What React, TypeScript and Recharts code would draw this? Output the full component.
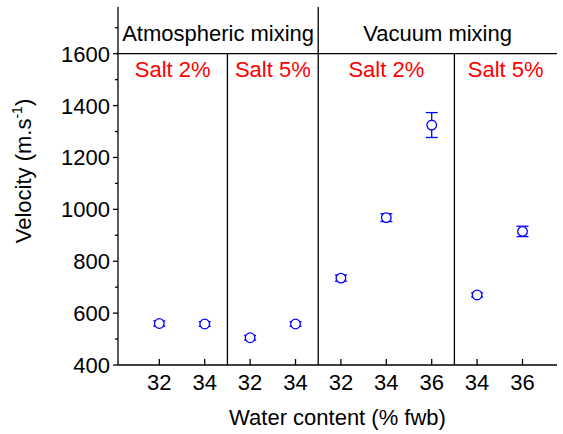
import {ComposedChart, ErrorBar, ReferenceArea, ReferenceLine, Scatter, XAxis, YAxis} from "recharts";

const positions = [0, 1, 2, 3, 4, 5, 6, 7, 8];
const waterLabels = ["32", "34", "32", "34", "32", "34", "36", "34", "36"];
const velocity = [560, 558, 505, 558, 735, 968, 1325, 670, 915];
const velocityErr = [10, 9, 9, 9, 12, 15, 48, 8, 20];

const mixingGroups = [
  {name: "Atmospheric mixing", from: -0.91, to: 3.5},
  {name: "Vacuum mixing", from: 3.5, to: 8.76},
];
const saltGroups = [
  {name: "Salt 2%", from: -0.91, to: 1.5},
  {name: "Salt 5%", from: 1.5, to: 3.5},
  {name: "Salt 2%", from: 3.5, to: 6.5},
  {name: "Salt 5%", from: 6.5, to: 8.76},
];
const yTicks = [400, 500, 600, 700, 800, 900, 1000, 1100, 1200, 1300, 1400, 1500, 1600, 1700];

const FONT = "'Liberation Sans', Arial, sans-serif";
const BLUE = "#0000ff";

const data = positions.map((x, i) => ({x, y: velocity[i], err: velocityErr[i]}));

function BottomTick(props: any) {
  const {x, y, payload} = props;
  return (
    <g>
      <line x1={x} x2={x} y1={y} y2={y - 6} stroke="#000" strokeWidth={1.3}/>
      <text x={x} y={y + 25} textAnchor="middle" fontSize={22} fontFamily={FONT} fill="#000">
        {waterLabels[payload.value]}
      </text>
    </g>
  );
}

function TopTick(props: any) {
  const {x, y} = props;
  return <line x1={x} x2={x} y1={y} y2={y + 6} stroke="#000" strokeWidth={1.3}/>;
}

function LeftTick(props: any) {
  const {x, y, payload} = props;
  const major = payload.value % 200 === 0 && payload.value <= 1600;
  return (
    <g>
      <line x1={x} x2={x - (major ? 5 : 3)} y1={y} y2={y} stroke="#000" strokeWidth={1.3}/>
      {major && (
        <text x={x - 8} y={y + 8} textAnchor="end" fontSize={22} fontFamily={FONT} fill="#000">
          {payload.value}
        </text>
      )}
    </g>
  );
}

function RightTick(props: any) {
  const {x, y, payload} = props;
  const major = payload.value % 200 === 0;
  return <line x1={x} x2={x - (major ? 5 : 3)} y1={y} y2={y} stroke="#000" strokeWidth={1.3}/>;
}

function YLabel(props: any) {
  const {viewBox} = props;
  const cx = 31;
  const cy = viewBox.y + viewBox.height / 2 - 15;
  return (
    <text x={cx} y={cy} transform={`rotate(-90 ${cx} ${cy})`} textAnchor="middle" fontSize={22} fontFamily={FONT} fill="#000">
      Velocity (m.s<tspan dy={-9} fontSize={14}>-1</tspan><tspan dy={9}>)</tspan>
    </text>
  );
}

function Circle(props: any) {
  const {cx, cy} = props;
  return <circle cx={cx} cy={cy} r={4.8} fill="#fff" stroke={BLUE} strokeWidth={1.3}/>;
}

export default function App() {
  return (
    <div style={{position: "absolute", left: 0, top: 0}}>
      <ComposedChart width={563} height={434} data={data} margin={{top: 7, right: 6, bottom: 0, left: 0}}>
        <XAxis
          type="number"
          dataKey="x"
          domain={[-0.91, 8.76]}
          ticks={positions}
          allowDataOverflow
          height={69}
          tickSize={0}
          tickMargin={0}
          tick={<BottomTick/>}
          axisLine={{stroke: "#000", strokeWidth: 1.3}}
          label={{value: "Water content (% fwb)", position: "insideBottom", offset: 9, fontSize: 22, fontFamily: FONT, fill: "#000"}}
        />
        <XAxis
          xAxisId="top"
          orientation="top"
          type="number"
          dataKey="x"
          domain={[-0.91, 8.76]}
          ticks={positions}
          allowDataOverflow
          height={0}
          tickSize={0}
          tickMargin={0}
          tick={<TopTick/>}
          axisLine={{stroke: "#000", strokeWidth: 1.3}}
        />
        <YAxis
          type="number"
          domain={[400, 1780]}
          ticks={yTicks}
          allowDataOverflow
          width={118}
          tickSize={0}
          tickMargin={0}
          tick={<LeftTick/>}
          axisLine={{stroke: "#000", strokeWidth: 1.3}}
          label={{content: YLabel}}
        />
        <YAxis
          yAxisId="right"
          orientation="right"
          type="number"
          domain={[400, 1780]}
          ticks={yTicks}
          allowDataOverflow
          width={0}
          tickSize={0}
          tickMargin={0}
          tick={<RightTick/>}
          axisLine={{stroke: "#000", strokeWidth: 1.3}}
        />
        <ReferenceLine y={1600} stroke="#000" strokeWidth={1.3}/>
        <ReferenceLine segment={[{x: 1.5, y: 1600}, {x: 1.5, y: 400}]} stroke="#000" strokeWidth={1.3}/>
        <ReferenceLine segment={[{x: 3.5, y: 1780}, {x: 3.5, y: 400}]} stroke="#000" strokeWidth={1.3}/>
        <ReferenceLine segment={[{x: 6.5, y: 1600}, {x: 6.5, y: 400}]} stroke="#000" strokeWidth={1.3}/>
        {mixingGroups.map(g => (
          <ReferenceArea
            key={g.name}
            x1={g.from}
            x2={g.to}
            y1={1600}
            y2={1780}
            fill="none"
            stroke="none"
            label={{value: g.name, position: "center", fontSize: 22, fontFamily: FONT, fill: "#000", dy: 3}}
          />
        ))}
        {saltGroups.map((g, i) => (
          <ReferenceArea
            key={i}
            x1={g.from}
            x2={g.to}
            y1={1440}
            y2={1600}
            fill="none"
            stroke="none"
            label={{value: g.name, position: "center", fontSize: 22, fontFamily: FONT, fill: "#ff0000", dy: -5}}
          />
        ))}
        <Scatter dataKey="y" shape={<Circle/>} isAnimationActive={false}>
          <ErrorBar dataKey="err" direction="y" width={6} stroke={BLUE} strokeWidth={1.3} isAnimationActive={false}/>
        </Scatter>
      </ComposedChart>
    </div>
  );
}
